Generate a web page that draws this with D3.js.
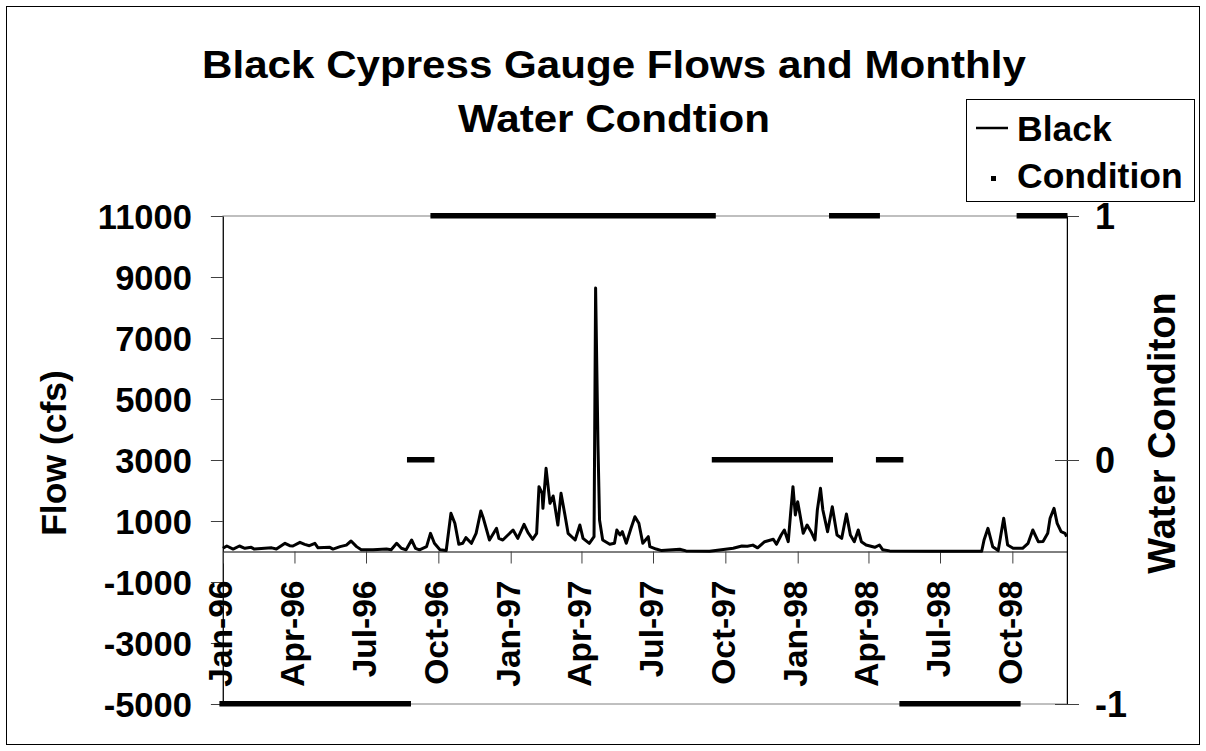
<!DOCTYPE html>
<html><head><meta charset="utf-8">
<script src="https://cdn.jsdelivr.net/npm/d3@7"></script>
<style>
body{margin:0;background:#fff;}
svg{display:block;}
text{font-family:"Liberation Sans",Arial,sans-serif;font-weight:bold;fill:#000;}
</style>
</head><body>
<svg id="chart" width="1206" height="751"></svg>
<script>
const titleLines = ["Black Cypress Gauge Flows and Monthly", "Water Condtion"];
const leftTitle = "Flow (cfs)";
const rightTitle = "Water Conditon";
const legendLabels = ["Black", "Condition"];

const flowDates = [
"1996-01-01","1996-01-06","1996-01-14","1996-01-22","1996-01-29","1996-02-06","1996-02-10","1996-03-03","1996-03-09","1996-03-20",
"1996-03-26","1996-03-30","1996-04-08","1996-04-14","1996-04-20","1996-04-27","1996-05-01","1996-05-16","1996-05-20","1996-05-29",
"1996-06-06","1996-06-12","1996-06-19","1996-06-25","1996-07-10","1996-07-27","1996-08-02","1996-08-09","1996-08-15","1996-08-21",
"1996-08-28","1996-09-02","1996-09-07","1996-09-16","1996-09-21","1996-09-26","1996-10-03","1996-10-11","1996-10-17","1996-10-22",
"1996-10-27","1996-11-01","1996-11-05","1996-11-12","1996-11-18","1996-11-24","1996-11-27","1996-12-05","1996-12-14","1996-12-17",
"1996-12-22","1997-01-04","1997-01-10","1997-01-18","1997-01-23","1997-01-29","1997-02-03","1997-02-06","1997-02-10","1997-02-11",
"1997-02-15","1997-02-20","1997-02-24","1997-02-26","1997-03-02","1997-03-06","1997-03-11","1997-03-15","1997-03-24","1997-03-30",
"1997-04-03","1997-04-11","1997-04-17","1997-04-19","1997-04-22","1997-04-24","1997-04-28","1997-05-07","1997-05-13","1997-05-16",
"1997-05-20","1997-05-23","1997-05-28","1997-06-03","1997-06-08","1997-06-13","1997-06-18","1997-06-25","1997-06-27","1997-07-05",
"1997-07-12","1997-08-04","1997-08-12","1997-09-11","1997-10-11","1997-10-22","1997-10-29","1997-11-05","1997-11-11","1997-11-20",
"1997-12-01","1997-12-05","1997-12-11","1997-12-15","1997-12-20","1997-12-23","1997-12-26","1997-12-29","1998-01-01","1998-01-04",
"1998-01-08","1998-01-13","1998-01-18","1998-01-23","1998-01-26","1998-01-30","1998-02-02","1998-02-08","1998-02-14","1998-02-20",
"1998-02-26","1998-03-04","1998-03-09","1998-03-14","1998-03-19","1998-03-23","1998-03-29","1998-04-09","1998-04-15","1998-04-19",
"1998-04-28","1998-06-18","1998-08-23","1998-08-26","1998-08-31","1998-09-06","1998-09-13","1998-09-16","1998-09-20","1998-09-25",
"1998-10-02","1998-10-14","1998-10-21","1998-10-27","1998-11-03","1998-11-09","1998-11-15","1998-11-18","1998-11-23","1998-11-27",
"1998-12-02","1998-12-07","1998-12-09"
];
const flowValues = [
105,180,80,180,105,136,80,120,80,268,
190,180,300,235,190,268,120,136,80,160,
210,344,160,55,55,80,55,268,105,55,
377,105,55,160,596,268,55,33,1252,924,
236,268,454,268,596,1328,1108,377,760,432,
377,705,432,891,617,400,596,2125,1908,1416,
2728,1580,1820,1525,869,1908,1197,596,377,869,
432,268,485,8640,3500,1033,377,236,268,705,
540,650,268,760,1141,924,268,485,157,80,
30,72,20,10,105,180,170,210,120,322,
400,236,541,705,322,1252,2125,1197,1634,1197,
596,869,650,377,1361,2071,1361,650,1470,541,
432,1230,541,322,705,322,213,137,213,60,
20,5,10,377,760,157,30,485,1088,213,
105,105,268,705,322,330,596,1088,1416,924,
650,596,485
];

const condMonths = [
"Jan-96","Feb-96","Mar-96","Apr-96","May-96","Jun-96","Jul-96","Aug-96","Sep-96","Oct-96","Nov-96","Dec-96",
"Jan-97","Feb-97","Mar-97","Apr-97","May-97","Jun-97","Jul-97","Aug-97","Sep-97","Oct-97","Nov-97","Dec-97",
"Jan-98","Feb-98","Mar-98","Apr-98","May-98","Jun-98","Jul-98","Aug-98","Sep-98","Oct-98","Nov-98","Dec-98"
];
const condValues = [
-1,-1,-1,-1,-1,-1,-1,-1,0,1,1,1,
1,1,1,1,1,1,1,1,1,0,0,0,
0,0,1,1,0,-1,-1,-1,-1,-1,1,1
];

const xTickDates = ["1996-01-01","1996-04-01","1996-07-01","1996-10-01","1997-01-01","1997-04-01",
                    "1997-07-01","1997-10-01","1998-01-01","1998-04-01","1998-07-01","1998-10-01"];
const xTickLabels = ["Jan-96","Apr-96","Jul-96","Oct-96","Jan-97","Apr-97",
                     "Jul-97","Oct-97","Jan-98","Apr-98","Jul-98","Oct-98"];
const leftTicks = [11000, 9000, 7000, 5000, 3000, 1000, -1000, -3000, -5000];
const rightTicks = [1, 0, -1];

const parse = d3.timeParse("%Y-%m-%d");
const svg = d3.select("#chart");
const plainNum = d => String(d);

const P = {left: 222.9, right: 1067, top: 216, bottom: 704};

const x = d3.scaleTime().domain([parse("1996-01-01"), new Date(1998, 11, 9, 12)]).range([P.left, P.right]);
const xb = d3.scaleBand().domain(condMonths).range([P.left, P.right]).padding(0);
const yL = d3.scaleLinear().domain([-5000, 11000]).range([P.bottom, P.top]);
const yR = d3.scaleLinear().domain([-1, 1]).range([P.bottom, P.top]);

// outer border
svg.append("rect").attr("x", 6.5).attr("y", 6.5).attr("width", 1193).attr("height", 738)
  .attr("fill", "#fff").attr("stroke", "#000").attr("stroke-width", 1);

// plot area border
svg.append("rect").attr("x", P.left).attr("y", P.top).attr("width", P.right - P.left).attr("height", P.bottom - P.top)
  .attr("fill", "none").attr("stroke", "#808080").attr("stroke-width", 1);

// title
const tg = svg.append("g");
[[titleLines[0], 78], [titleLines[1], 132]].forEach(([t, yy]) => {
  const el = tg.append("text").attr("x", 614).attr("y", yy).attr("text-anchor", "middle")
    .style("font-size", "39px").text(t);
  const L = el.node().getComputedTextLength();
  el.attr("textLength", L * 1.08).attr("lengthAdjust", "spacingAndGlyphs");
});

// left axis
const gl = svg.append("g").attr("transform", `translate(${P.left},0)`)
  .call(d3.axisLeft(yL).tickValues(leftTicks).tickSize(12).tickSizeOuter(0).tickPadding(19).tickFormat(plainNum));
gl.select(".domain").attr("stroke", "#000");
gl.selectAll(".tick line").attr("stroke", "#404040");
gl.selectAll(".tick text").style("font-size", "34.5px").attr("font-family", null).attr("dy", "0.36em");

// right axis
const gr = svg.append("g").attr("transform", `translate(${P.right},0)`)
  .call(d3.axisRight(yR).tickValues(rightTicks).tickSize(12).tickSizeOuter(0).tickPadding(16).tickFormat(plainNum));
gr.select(".domain").attr("stroke", "#000");
gr.selectAll(".tick line").attr("x1", -12).attr("stroke", "#404040");
gr.selectAll(".tick text").style("font-size", "36px").attr("font-family", null).attr("dy", "0.36em");

// x axis at zero
const gx = svg.append("g").attr("transform", `translate(0,${yL(0)})`)
  .call(d3.axisBottom(x).tickValues(xTickDates.map(parse)).tickSize(12).tickSizeOuter(0)
    .tickFormat((d, i) => xTickLabels[i]));
gx.select(".domain").attr("stroke", "#000");
gx.selectAll(".tick line").attr("stroke", "#404040");
gx.selectAll(".tick text").style("font-size", "33.5px").attr("font-family", null)
  .attr("x", 0).attr("y", 0).attr("dy", 0)
  .attr("text-anchor", "end")
  .attr("transform", "translate(9,29) rotate(-90)");

// condition series: merge consecutive months with the same value into runs
const runs = [];
condMonths.forEach((m, i) => {
  const v = condValues[i];
  const last = runs[runs.length - 1];
  if (last && last.v === v) last.end = m; else runs.push({start: m, end: m, v});
});
svg.append("g").selectAll("rect").data(runs)
  .join("rect")
  .attr("x", d => xb(d.start) - 3.5)
  .attr("width", d => xb(d.end) + xb.bandwidth() - xb(d.start) + 4)
  .attr("y", d => yR(d.v) - 3)
  .attr("height", 5.5)
  .attr("fill", "#000");

// flow line
const flow = flowDates.map((d, i) => ({date: parse(d), v: flowValues[i]}));
svg.append("path").datum(flow)
  .attr("fill", "none").attr("stroke", "#000").attr("stroke-width", 3).attr("stroke-linejoin", "round")
  .attr("d", d3.line().x(d => x(d.date)).y(d => yL(d.v)));

// axis titles
svg.append("text").attr("transform", "translate(66,453) rotate(-90)").attr("text-anchor", "middle")
  .style("font-size", "35.5px").text(leftTitle);
svg.append("text").attr("transform", "translate(1175,433) rotate(-90)").attr("text-anchor", "middle")
  .style("font-size", "38px").text(rightTitle);

// legend
const lg = svg.append("g");
lg.append("rect").attr("x", 966.5).attr("y", 99.5).attr("width", 228).attr("height", 102)
  .attr("fill", "#fff").attr("stroke", "#000").attr("stroke-width", 1);
lg.append("line").attr("x1", 976).attr("x2", 1008).attr("y1", 128).attr("y2", 128)
  .attr("stroke", "#000").attr("stroke-width", 2.5);
lg.append("rect").attr("x", 991).attr("y", 176).attr("width", 5).attr("height", 5).attr("fill", "#000");
lg.append("text").attr("x", 1017).attr("y", 141).style("font-size", "35.5px").text(legendLabels[0]);
lg.append("text").attr("x", 1017).attr("y", 188).style("font-size", "35.5px").text(legendLabels[1]);
</script>
</body></html>
